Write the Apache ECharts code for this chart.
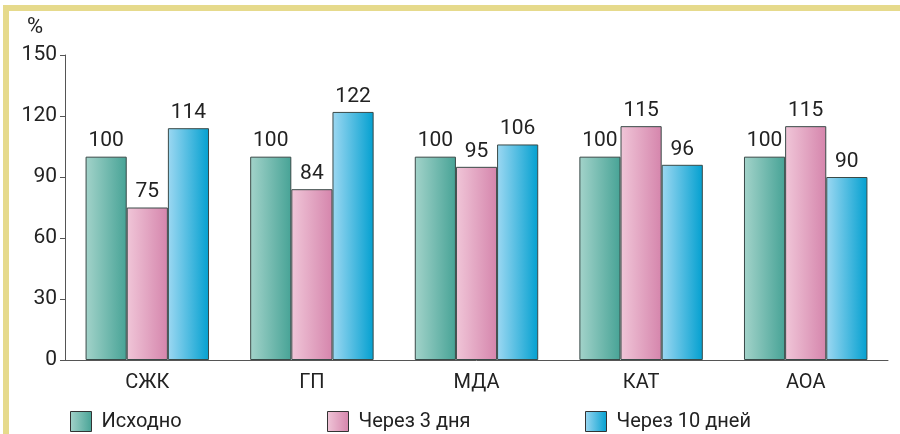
<!DOCTYPE html>
<html>
<head>
<meta charset="utf-8">
<script src="https://cdn.jsdelivr.net/npm/echarts@6/dist/echarts.min.js"></script>
<style>
html,body{margin:0;padding:0;background:#fff;}
#frame{position:absolute;left:3px;top:5px;width:897px;height:429px;border-top:6px solid #e6da8c;border-left:6px solid #e6da8c;box-sizing:border-box;}
#chart{position:absolute;left:0;top:0;width:900px;height:434px;}
</style>
</head>
<body>
<div id="frame"></div>
<div id="chart"></div>
<script>
const categories = ['СЖК', 'ГП', 'МДА', 'КАТ', 'АОА'];
const seriesNames = ['Исходно', 'Через 3 дня', 'Через 10 дней'];
const baseline = [100, 100, 100, 100, 100];
const after3 = [75, 84, 95, 115, 115];
const after10 = [114, 122, 106, 96, 90];
const yTicks = [0, 30, 60, 90, 120, 150];

const FONT = "Roboto, 'Liberation Sans', sans-serif";
function grad(a, b) {
  return new echarts.graphic.LinearGradient(0, 0, 1, 0, [{offset: 0, color: a}, {offset: 1, color: b}]);
}
const colors = [grad('#a3d3ca', '#47a396'), grad('#f0c6d8', '#d585ac'), grad('#9dd8f2', '#03a0d0')];
const values = [baseline, after3, after10];
const legendLefts = [65, 322, 580];

const chart = echarts.init(document.getElementById('chart'), null, {renderer: 'canvas'});
chart.setOption({
  animation: false,
  textStyle: {fontFamily: FONT, color: '#222'},
  grid: {left: 65, right: 12, top: 55, bottom: 74, containLabel: false},
  legend: seriesNames.map((n, i) => ({
    left: legendLefts[i], top: 406, itemWidth: 21, itemHeight: 20, icon: 'rect',
    textStyle: {fontFamily: FONT, fontSize: 20, color: '#222', padding: [0, 0, 0, 5]},
    data: [{name: n, itemStyle: {color: colors[i], borderColor: '#333', borderWidth: 1}}]
  })),
  xAxis: {
    type: 'category', data: categories,
    axisLine: {lineStyle: {color: '#555', width: 1}},
    axisTick: {show: false},
    axisLabel: {fontSize: 20, color: '#222', margin: 13, fontFamily: FONT}
  },
  yAxis: {
    type: 'value', min: yTicks[0], max: yTicks[yTicks.length - 1], interval: 30,
    name: '%', nameLocation: 'end', nameGap: 17,
    nameTextStyle: {fontSize: 22, color: '#222', align: 'right', padding: [0, 22, 0, 0], fontFamily: FONT},
    axisLine: {show: true, lineStyle: {color: '#555', width: 1}},
    axisTick: {show: true, length: 5, lineStyle: {color: '#555'}},
    splitLine: {show: false},
    axisLabel: {fontSize: 21, color: '#222', margin: 8, fontFamily: FONT}
  },
  series: seriesNames.map((n, i) => ({
    name: n, type: 'bar', data: values[i],
    barGap: '0%', barCategoryGap: '25%',
    itemStyle: {color: colors[i], borderColor: '#3a4a48', borderWidth: 1},
    label: {show: true, position: 'top', fontSize: 21, color: '#222', distance: 5, fontFamily: FONT}
  }))
});
</script>
</body>
</html>
